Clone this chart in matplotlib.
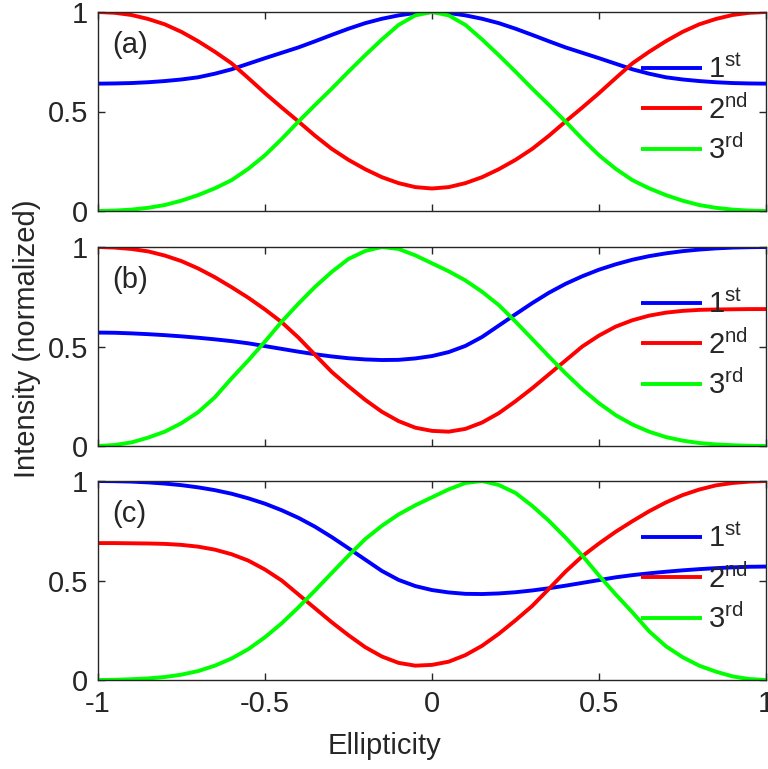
import matplotlib
matplotlib.use("Agg")
import matplotlib.pyplot as plt
import numpy as np

plt.rcParams['font.family'] = ['Liberation Sans', 'DejaVu Sans']
plt.rcParams['mathtext.fontset'] = 'custom'
plt.rcParams['mathtext.rm'] = 'Liberation Sans'
plt.rcParams['axes.unicode_minus'] = False

# ellipticity grid (step 0.05)
ellip = np.round(np.arange(-1, 1.0001, 0.05), 2)

# panel (a)
blue_a = [0.640, 0.641, 0.643, 0.647, 0.653, 0.661, 0.672, 0.690, 0.712, 0.740, 0.768,
          0.795, 0.822, 0.853, 0.885, 0.916, 0.944, 0.966, 0.983, 0.995, 1.000,
          0.995, 0.983, 0.966, 0.944, 0.916, 0.885, 0.853, 0.822, 0.795, 0.768,
          0.740, 0.712, 0.690, 0.672, 0.661, 0.653, 0.647, 0.643, 0.641, 0.640]
red_a = [1.000, 0.996, 0.985, 0.965, 0.938, 0.900, 0.853, 0.800, 0.742, 0.668, 0.592,
         0.520, 0.450, 0.378, 0.312, 0.257, 0.210, 0.170, 0.140, 0.120, 0.113,
         0.120, 0.140, 0.170, 0.210, 0.257, 0.312, 0.378, 0.450, 0.520, 0.592,
         0.668, 0.742, 0.800, 0.853, 0.900, 0.938, 0.965, 0.985, 0.996, 1.000]
green_a = [0.000, 0.002, 0.007, 0.016, 0.030, 0.052, 0.080, 0.114, 0.155, 0.212, 0.280,
           0.362, 0.449, 0.533, 0.615, 0.700, 0.783, 0.862, 0.935, 0.983, 1.000,
           0.983, 0.935, 0.862, 0.783, 0.700, 0.615, 0.533, 0.449, 0.362, 0.280,
           0.212, 0.155, 0.114, 0.080, 0.052, 0.030, 0.016, 0.007, 0.002, 0.000]

# panel (b)
blue_b = [0.570, 0.569, 0.566, 0.562, 0.557, 0.551, 0.544, 0.536, 0.527, 0.516, 0.502,
          0.488, 0.474, 0.461, 0.450, 0.441, 0.435, 0.432, 0.433, 0.440, 0.452,
          0.472, 0.503, 0.548, 0.605, 0.662, 0.718, 0.770, 0.815, 0.853, 0.886,
          0.913, 0.936, 0.954, 0.968, 0.979, 0.987, 0.993, 0.997, 0.999, 1.000]
red_b = [1.000, 0.997, 0.990, 0.978, 0.957, 0.929, 0.892, 0.848, 0.798, 0.745, 0.686,
         0.622, 0.545, 0.458, 0.372, 0.300, 0.232, 0.172, 0.125, 0.092, 0.076,
         0.072, 0.086, 0.118, 0.165, 0.225, 0.290, 0.360, 0.430, 0.500, 0.555,
         0.600, 0.632, 0.655, 0.670, 0.679, 0.684, 0.686, 0.687, 0.688, 0.688]
green_b = [0.000, 0.005, 0.018, 0.042, 0.072, 0.115, 0.170, 0.245, 0.340, 0.430, 0.525,
           0.625, 0.715, 0.800, 0.875, 0.940, 0.980, 1.000, 0.990, 0.958, 0.918,
           0.878, 0.832, 0.775, 0.708, 0.625, 0.538, 0.450, 0.365, 0.285, 0.215,
           0.155, 0.108, 0.072, 0.045, 0.027, 0.015, 0.008, 0.004, 0.001, 0.000]

# panel (c)
blue_c = [1.000, 0.999, 0.997, 0.993, 0.987, 0.979, 0.968, 0.954, 0.936, 0.913, 0.886,
          0.853, 0.815, 0.770, 0.718, 0.662, 0.605, 0.548, 0.503, 0.472, 0.452,
          0.440, 0.433, 0.432, 0.435, 0.441, 0.450, 0.461, 0.474, 0.488, 0.502,
          0.516, 0.527, 0.536, 0.544, 0.551, 0.557, 0.562, 0.566, 0.569, 0.570]
red_c = [0.688, 0.688, 0.687, 0.686, 0.684, 0.679, 0.670, 0.655, 0.632, 0.600, 0.555,
         0.500, 0.430, 0.360, 0.290, 0.225, 0.165, 0.118, 0.086, 0.072, 0.076,
         0.092, 0.125, 0.172, 0.232, 0.300, 0.372, 0.458, 0.545, 0.622, 0.686,
         0.745, 0.798, 0.848, 0.892, 0.929, 0.957, 0.978, 0.990, 0.997, 1.000]
green_c = [0.000, 0.001, 0.004, 0.008, 0.015, 0.027, 0.045, 0.072, 0.108, 0.155, 0.215,
           0.285, 0.365, 0.450, 0.538, 0.625, 0.708, 0.775, 0.832, 0.878, 0.918,
           0.958, 0.990, 1.000, 0.980, 0.940, 0.875, 0.800, 0.715, 0.625, 0.525,
           0.430, 0.340, 0.245, 0.170, 0.115, 0.072, 0.042, 0.018, 0.005, 0.000]

panels = [("(a)", blue_a, red_a, green_a),
          ("(b)", blue_b, red_b, green_b),
          ("(c)", blue_c, red_c, green_c)]
names = [r"1$^{\mathrm{st}}$", r"2$^{\mathrm{nd}}$", r"3$^{\mathrm{rd}}$"]
colors = ["#0000ff", "#ff0000", "#00ff00"]
dark = "#262626"
fs = 21

fig = plt.figure(figsize=(7.68, 7.69), dpi=100)
left, width, height = 98 / 768, 668 / 768, 199 / 769
tops = [12, 247, 481]

for k, (tag, b, r, g) in enumerate(panels):
    bottom = 1 - (tops[k] + 199) / 769
    ax = fig.add_axes([left, bottom, width, height])
    for ys, c, n in zip([b, r, g], colors, names):
        ax.plot(ellip, ys, color=c, lw=2.8, label=n, solid_capstyle='butt')
    ax.set_xlim(-1, 1)
    ax.set_ylim(0, 1)
    ax.set_yticks([0, 0.5, 1])
    ax.set_yticklabels(["0", "0.5", "1"])
    ax.set_xticks([-1, -0.5, 0, 0.5, 1])
    ax.tick_params(direction='in', length=5, width=1, top=True, right=True,
                   labelsize=fs, colors=dark, pad=7)
    if k < 2:
        ax.tick_params(labelbottom=False)
    else:
        ax.set_xticklabels(["-1", "-0.5", "0", "0.5", "1"])
    for s in ax.spines.values():
        s.set_color(dark)
        s.set_linewidth(1)
    ax.text(0.022, 0.835, tag, transform=ax.transAxes, fontsize=fs,
            color=dark, va='center', ha='left')
    leg = ax.legend(loc='upper left', bbox_to_anchor=(0.813, 0.785), frameon=False,
                    fontsize=fs, handlelength=2.1, handletextpad=0.2,
                    labelspacing=0.34, borderaxespad=0, borderpad=0)
    for t in leg.get_texts():
        t.set_color(dark)

fig.text(0.5, 0.03, "Ellipticity", ha='center', va='center', fontsize=fs, color=dark)
fig.text(0.035, 0.56, "Intensity (normalized)", ha='center', va='center',
         rotation=90, fontsize=fs, color=dark)

fig.savefig("out.png", dpi=100)
